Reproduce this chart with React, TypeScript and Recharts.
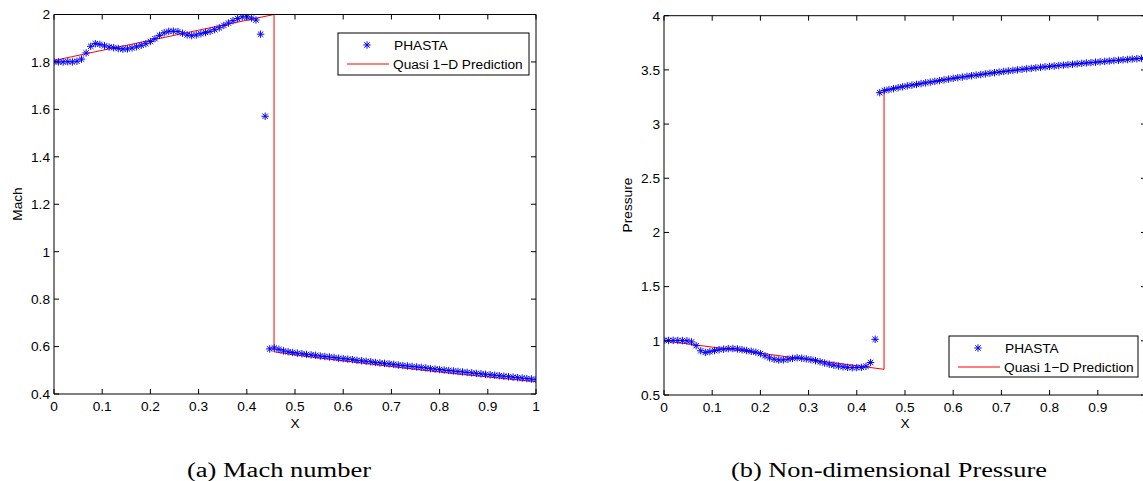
import React from "react";
import { ComposedChart, Line, Scatter, XAxis, YAxis } from "recharts";

const xTicks = [0, 0.1, 0.2, 0.3, 0.4, 0.5, 0.6, 0.7, 0.8, 0.9, 1];
const machTicks = [0.4, 0.6, 0.8, 1, 1.2, 1.4, 1.6, 1.8, 2];
const pressureTicks = [0.5, 1, 1.5, 2, 2.5, 3, 3.5, 4];

const phastaX = [
  0, 0.0095, 0.019, 0.0286, 0.0381, 0.0476, 0.0571, 0.0667, 0.0762, 0.0857,
  0.0952, 0.1048, 0.1143, 0.1238, 0.1333, 0.1429, 0.1524, 0.1619, 0.1714, 0.181,
  0.1905, 0.2, 0.2095, 0.219, 0.2286, 0.2381, 0.2476, 0.2571, 0.2667, 0.2762,
  0.2857, 0.2952, 0.3048, 0.3143, 0.3238, 0.3333, 0.3429, 0.3524, 0.3619, 0.3714,
  0.381, 0.3905, 0.4, 0.4095, 0.419, 0.4286, 0.4381, 0.4476, 0.4571, 0.4667,
  0.4762, 0.4857, 0.4952, 0.5048, 0.5143, 0.5238, 0.5333, 0.5429, 0.5524, 0.5619,
  0.5714, 0.581, 0.5905, 0.6, 0.6095, 0.619, 0.6286, 0.6381, 0.6476, 0.6571,
  0.6667, 0.6762, 0.6857, 0.6952, 0.7048, 0.7143, 0.7238, 0.7333, 0.7429, 0.7524,
  0.7619, 0.7714, 0.781, 0.7905, 0.8, 0.8095, 0.819, 0.8286, 0.8381, 0.8476,
  0.8571, 0.8667, 0.8762, 0.8857, 0.8952, 0.9048, 0.9143, 0.9238, 0.9333, 0.9429,
  0.9524, 0.9619, 0.9714, 0.981, 0.9905, 1,
];

const machPhasta = [
  1.801, 1.8, 1.8, 1.801, 1.8, 1.803, 1.812, 1.838, 1.866, 1.877,
  1.874, 1.868, 1.863, 1.86, 1.857, 1.854, 1.855, 1.859, 1.864, 1.87,
  1.877, 1.886, 1.898, 1.912, 1.923, 1.929, 1.93, 1.928, 1.921, 1.914,
  1.911, 1.914, 1.919, 1.924, 1.929, 1.936, 1.944, 1.954, 1.964, 1.974,
  1.983, 1.99, 1.99, 1.985, 1.977, 1.917, 1.571, 0.59, 0.594, 0.588,
  0.582, 0.578, 0.575, 0.572, 0.57, 0.567, 0.565, 0.563, 0.56, 0.558,
  0.556, 0.554, 0.551, 0.549, 0.547, 0.545, 0.542, 0.54, 0.538, 0.536,
  0.533, 0.531, 0.529, 0.527, 0.525, 0.522, 0.52, 0.518, 0.516, 0.514,
  0.512, 0.51, 0.507, 0.505, 0.503, 0.501, 0.499, 0.497, 0.495, 0.493,
  0.491, 0.489, 0.487, 0.485, 0.483, 0.481, 0.479, 0.477, 0.475, 0.473,
  0.471, 0.469, 0.467, 0.465, 0.463, 0.461,
];

const pressurePhasta = [
  1.005, 1.003, 1.004, 1.003, 1.002, 1.0, 0.99, 0.955, 0.908, 0.893,
  0.9, 0.91, 0.918, 0.923, 0.928, 0.929, 0.925, 0.918, 0.91, 0.903,
  0.895, 0.882, 0.862, 0.843, 0.83, 0.823, 0.824, 0.83, 0.838, 0.843,
  0.84, 0.833, 0.826, 0.817, 0.806, 0.795, 0.784, 0.775, 0.767, 0.76,
  0.755, 0.752, 0.753, 0.755, 0.765, 0.8, 1.014, 3.29, 3.31, 3.318,
  3.327, 3.336, 3.344, 3.352, 3.359, 3.366, 3.373, 3.38, 3.387, 3.394,
  3.401, 3.408, 3.415, 3.422, 3.428, 3.434, 3.44, 3.446, 3.452, 3.457,
  3.463, 3.469, 3.474, 3.48, 3.485, 3.49, 3.495, 3.5, 3.505, 3.51,
  3.514, 3.519, 3.524, 3.528, 3.532, 3.536, 3.54, 3.544, 3.548, 3.552,
  3.556, 3.56, 3.564, 3.567, 3.571, 3.575, 3.578, 3.582, 3.586, 3.589,
  3.593, 3.596, 3.6, 3.603, 3.606, 3.61,
];

const quasiX = [0, 0.1, 0.2, 0.3, 0.4, 0.4565, 0.4565, 0.5, 0.55, 0.6, 0.65, 0.7, 0.75, 0.8, 0.85, 0.9, 0.95, 1];
const machQuasi = [1.806, 1.849, 1.891, 1.934, 1.976, 2.0, 0.578, 0.565, 0.552, 0.54, 0.528, 0.516, 0.504, 0.493, 0.482, 0.472, 0.462, 0.452];
const pressureQuasi = [1.0, 0.942, 0.885, 0.827, 0.77, 0.737, 3.31, 3.352, 3.388, 3.422, 3.453, 3.483, 3.508, 3.532, 3.553, 3.572, 3.591, 3.61];

const zip = (xs: number[], ys: number[]) =>
  xs.slice(0, Math.min(xs.length, ys.length)).map((x, i) => ({ x, y: ys[i] }));

const SANS = "'Liberation Sans', Arial, Helvetica, sans-serif";
const SERIF = "'Liberation Serif', 'Times New Roman', serif";
const FS = 13.7;

const fmt = (v: number) => String(parseFloat(Number(v).toFixed(2)));

const BOTTOM_MARGIN = 7;
const LEFT_MARGIN = 4;
const TICK_LEN = 5;

const BottomTick = (p: any) => {
  const { x, y, payload } = p;
  const base = y - BOTTOM_MARGIN;
  return (
    <g>
      <line x1={x} y1={base} x2={x} y2={base - TICK_LEN} stroke="#000" strokeWidth={1} />
      <text x={x} y={y} dy="0.71em" textAnchor="middle" fontSize={FS} fontFamily={SANS} fill="#000">
        {fmt(payload.value)}
      </text>
    </g>
  );
};

const LeftTick = (p: any) => {
  const { x, y, payload } = p;
  const base = x + LEFT_MARGIN;
  return (
    <g>
      <line x1={base} y1={y} x2={base + TICK_LEN} y2={y} stroke="#000" strokeWidth={1} />
      <text x={x} y={y} dy="0.355em" textAnchor="end" fontSize={FS} fontFamily={SANS} fill="#000">
        {fmt(payload.value)}
      </text>
    </g>
  );
};

const TopTick = (p: any) => {
  const { x, y } = p;
  return <line x1={x} y1={y} x2={x} y2={y + TICK_LEN} stroke="#000" strokeWidth={1} />;
};

const RightTick = (p: any) => {
  const { x, y } = p;
  return <line x1={x} y1={y} x2={x - TICK_LEN} y2={y} stroke="#000" strokeWidth={1} />;
};

const starPath = (cx: number, cy: number) => {
  const r = 3.7;
  const d = 2.7;
  return `M${cx - r},${cy}H${cx + r}M${cx},${cy - r}V${cy + r}M${cx - d},${cy - d}L${cx + d},${cy + d}M${cx - d},${cy + d}L${cx + d},${cy - d}`;
};

const Star = (props: any) => {
  const { cx, cy } = props;
  if (cx == null || cy == null || isNaN(cx) || isNaN(cy)) return <g />;
  return <path d={starPath(cx, cy)} stroke="#0000ff" strokeWidth={1} fill="none" />;
};

type PanelProps = {
  left: number;
  plotTop: number;
  plotBottom: number;
  yDomain: [number, number];
  yTicks: number[];
  phasta: { x: number; y: number }[];
  quasi: { x: number; y: number }[];
};

const W = 560;
const H = 430;

function Panel({ left, plotTop, plotBottom, yDomain, yTicks, phasta, quasi }: PanelProps) {
  const topAxisH = 1;
  const bottomAxisH = 30;
  return (
    <div style={{ position: "absolute", left, top: 0, width: W, height: H }}>
      <ComposedChart
        width={W}
        height={H}
        margin={{ top: plotTop - topAxisH, right: 14, bottom: H - plotBottom - bottomAxisH, left: 0 }}
      >
        <XAxis
          dataKey="x"
          type="number"
          domain={[0, 1]}
          ticks={xTicks}
          interval={0}
          allowDataOverflow
          orientation="bottom"
          height={bottomAxisH}
          tickSize={0}
          tickMargin={BOTTOM_MARGIN}
          tickLine={false}
          axisLine={{ stroke: "#000", strokeWidth: 1 }}
          tick={(p: any) => <BottomTick {...p} />}
        />
        <XAxis
          xAxisId="top"
          dataKey="x"
          type="number"
          domain={[0, 1]}
          ticks={xTicks}
          interval={0}
          allowDataOverflow
          orientation="top"
          height={topAxisH}
          tickSize={0}
          tickMargin={0}
          tickLine={false}
          axisLine={{ stroke: "#000", strokeWidth: 1 }}
          tick={(p: any) => <TopTick {...p} />}
        />
        <YAxis
          dataKey="y"
          type="number"
          domain={yDomain}
          ticks={yTicks}
          interval={0}
          allowDataOverflow
          orientation="left"
          width={54}
          tickSize={0}
          tickMargin={LEFT_MARGIN}
          tickLine={false}
          axisLine={{ stroke: "#000", strokeWidth: 1 }}
          tick={(p: any) => <LeftTick {...p} />}
        />
        <YAxis
          yAxisId="right"
          dataKey="y"
          type="number"
          domain={yDomain}
          ticks={yTicks}
          interval={0}
          allowDataOverflow
          orientation="right"
          width={10}
          tickSize={0}
          tickMargin={0}
          tickLine={false}
          axisLine={{ stroke: "#000", strokeWidth: 1 }}
          tick={(p: any) => <RightTick {...p} />}
        />
        <Scatter data={phasta} dataKey="y" shape={Star} isAnimationActive={false} />
        <Line
          data={quasi}
          dataKey="y"
          type="linear"
          stroke="#ff0000"
          strokeWidth={1}
          dot={false}
          activeDot={false}
          isAnimationActive={false}
        />
      </ComposedChart>
    </div>
  );
}

function LegendBox({ x, y, w, h }: { x: number; y: number; w: number; h: number }) {
  const row1 = y + 12;
  const row2 = y + 31;
  return (
    <g>
      <rect x={x} y={y} width={w} height={h} fill="#fff" stroke="#000" strokeWidth={1} />
      <path d={starPath(x + 29, row1)} stroke="#0000ff" strokeWidth={1} fill="none" />
      <text x={x + 56} y={row1} dy="0.355em" fontSize={FS} fontFamily={SANS} fill="#000">
        PHASTA
      </text>
      <line x1={x + 9} y1={row2} x2={x + 51} y2={row2} stroke="#ff0000" strokeWidth={1} />
      <text x={x + 55} y={row2} dy="0.355em" fontSize={FS} fontFamily={SANS} fill="#000">
        Quasi 1−D Prediction
      </text>
    </g>
  );
}

export default function App() {
  const machPts = zip(phastaX, machPhasta);
  const machLine = zip(quasiX, machQuasi);
  const presPts = zip(phastaX, pressurePhasta);
  const presLine = zip(quasiX, pressureQuasi);
  return (
    <div
      style={{
        position: "absolute",
        left: 0,
        top: 0,
        width: 1143,
        height: 481,
        overflow: "hidden",
        background: "#fff",
      }}
    >
      <Panel
        left={0}
        plotTop={14.5}
        plotBottom={394}
        yDomain={[0.4, 2]}
        yTicks={machTicks}
        phasta={machPts}
        quasi={machLine}
      />
      <Panel
        left={610}
        plotTop={15.7}
        plotBottom={395}
        yDomain={[0.5, 4]}
        yTicks={pressureTicks}
        phasta={presPts}
        quasi={presLine}
      />
      <svg
        width={1143}
        height={481}
        style={{ position: "absolute", left: 0, top: 0, pointerEvents: "none" }}
      >
        <LegendBox x={338} y={33} w={191} h={42} />
        <LegendBox x={949} y={336} w={189} h={41} />
        <text
          x={17}
          y={204}
          transform="rotate(-90 17 204)"
          textAnchor="middle"
          dy="0.355em"
          fontSize={FS}
          fontFamily={SANS}
          fill="#000"
        >
          Mach
        </text>
        <text
          x={627}
          y={205}
          transform="rotate(-90 627 205)"
          textAnchor="middle"
          dy="0.355em"
          fontSize={FS}
          fontFamily={SANS}
          fill="#000"
        >
          Pressure
        </text>
        <text x={295} y={423} textAnchor="middle" dy="0.355em" fontSize={FS} fontFamily={SANS} fill="#000">
          X
        </text>
        <text x={905} y={423} textAnchor="middle" dy="0.355em" fontSize={FS} fontFamily={SANS} fill="#000">
          X
        </text>
        <text
          x={279}
          y={470}
          textAnchor="middle"
          dy="0.355em"
          fontSize={20}
          fontFamily={SERIF}
          fill="#000"
          textLength={184}
          lengthAdjust="spacingAndGlyphs"
        >
          (a) Mach number
        </text>
        <text
          x={889}
          y={470}
          textAnchor="middle"
          dy="0.355em"
          fontSize={20}
          fontFamily={SERIF}
          fill="#000"
          textLength={316}
          lengthAdjust="spacingAndGlyphs"
        >
          (b) Non-dimensional Pressure
        </text>
      </svg>
    </div>
  );
}
